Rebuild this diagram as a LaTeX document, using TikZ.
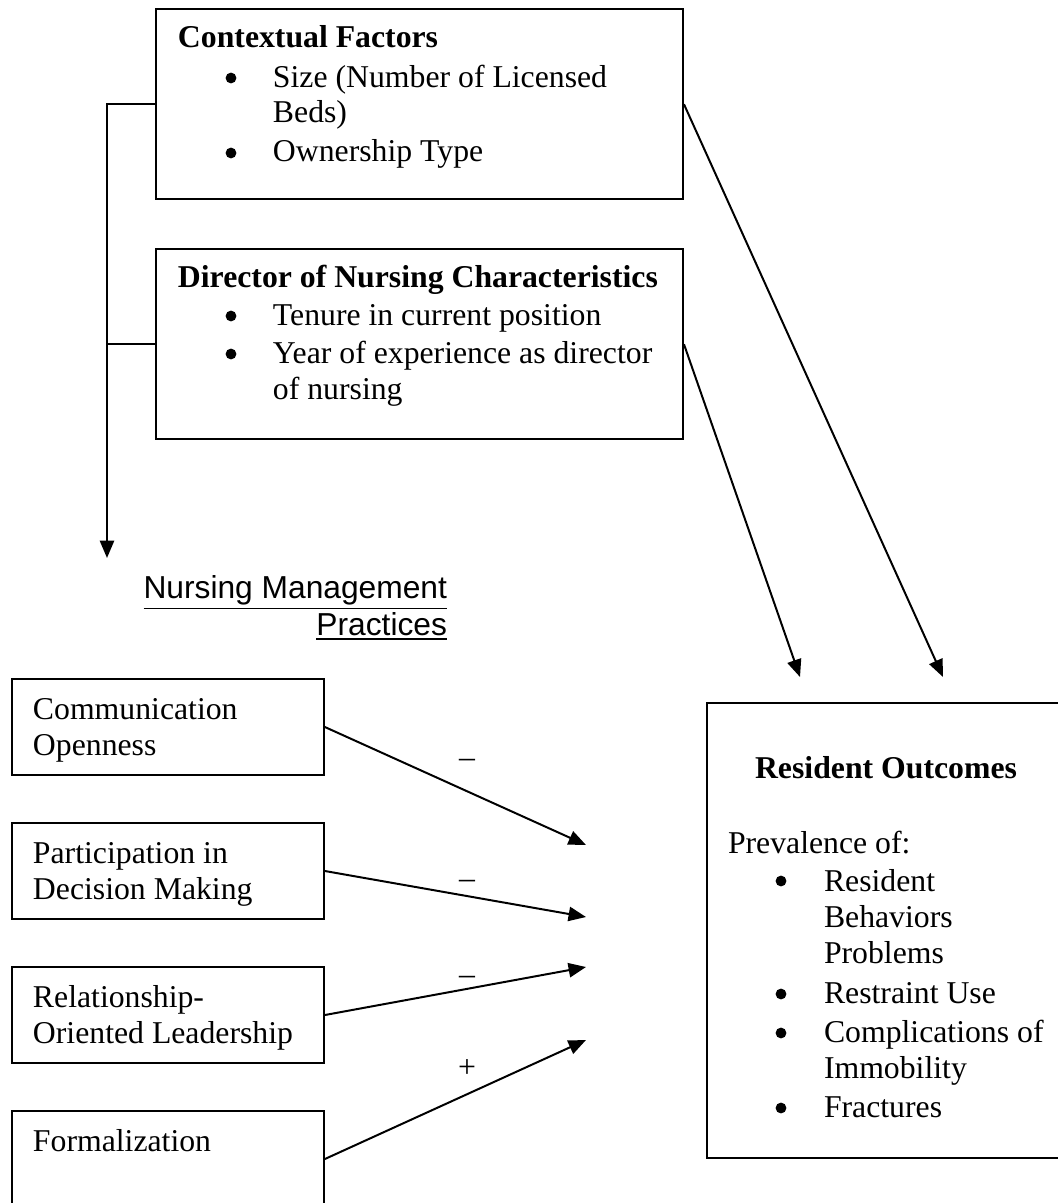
\documentclass[tikz,border=0pt]{standalone}
\usepackage{fontspec}
\setmainfont{Liberation Serif}
\setsansfont{Liberation Sans}
\usetikzlibrary{arrows.meta}

\begin{document}
\begin{tikzpicture}[x=0.378pt, y=-0.378pt, line width=0.75pt,
  font=\fontsize{12}{13.6}\selectfont,
  topbox/.style={draw, anchor=north west, inner sep=0, minimum width=199.2pt, minimum height=72pt},
  mgmtbox/.style={draw, anchor=north west, inner sep=0, minimum width=117.9pt, minimum height=36.3pt},
  txt/.style={anchor=base west, inner sep=0, align=left},
  dot/.style={circle, fill, inner sep=0, minimum size=4.1pt},
  sign/.style={anchor=base, inner sep=0},
  tip/.style={-{Triangle[length=6.6pt,width=5.4pt]}}]
\useasboundingbox (0,0) rectangle (1057,1203);
% top boxes (multi-line texts sit on their last line)
\node[topbox] (ctx) at (155,8){};
\node[txt] (ctxt) at (177,48){\textbf{Contextual Factors}};
\node[dot] (cb1) at (231,78){};
\node[txt] (ci1) at (272,123){Size (Number of Licensed\\Beds)};
\node[dot] (cb2) at (231,153){};
\node[txt] (ci2) at (272,162){Ownership Type};
\node[topbox] (dir) at (155,248){};
\node[txt] (dirt) at (177,287){\textbf{Director of Nursing Characteristics}};
\node[dot] (db1) at (231,316){};
\node[txt] (di1) at (272,325){Tenure in current position};
\node[dot] (db2) at (231,354){};
\node[txt] (di2) at (272,399){Year of experience as director\\of nursing};
\coordinate (nmp) at (107,558);
\draw[tip](ctx.west) -| (nmp);
\draw[](dir.west) -- (dir.west -| nmp);
% management practices
\node[anchor=base east, inner sep=0, align=right, font=\sffamily\fontsize{12}{13.8}\selectfont] (nmpt) at (448,635){\underline{Nursing Management}\\\underline{Practices}};
\node[mgmtbox] (comm) at (11,678){};
\node[txt] (commt) at (32,755){Communication\\Openness};
\node[mgmtbox] (part) at (11,822){};
\node[txt] (partt) at (32,899){Participation in\\Decision Making};
\node[mgmtbox] (rel) at (11,966){};
\node[txt] (relt) at (32,1043){Relationship-\\Oriented Leadership};
\node[mgmtbox] (form) at (11,1110){};
\node[txt] (formt) at (32,1151){Formalization};
% outcomes
\node[draw, anchor=north west, inner sep=0, minimum width=136pt, minimum height=172pt] (res) at (706,702){};
\node[anchor=base, inner sep=0] (rest) at (886,778){\textbf{Resident Outcomes}};
\node[txt] (prev) at (727,853){Prevalence of:};
\node[dot] (rb1) at (781,881){};
\node[txt] (ri1) at (823,963){Resident\\Behaviors\\Problems};
\node[dot] (rb2) at (781,994){};
\node[txt] (ri2) at (823,1003){Restraint Use};
\node[dot] (rb3) at (781,1033){};
\node[txt] (ri3) at (823,1078){Complications of\\Immobility};
\node[dot] (rb4) at (781,1108){};
\node[txt] (ri4) at (823,1117){Fractures};
% arrows
\coordinate (t1) at (586,845);
\coordinate (t2) at (586,917);
\coordinate (t3) at (586,967);
\coordinate (t4) at (586,1040);
\coordinate (t5) at (800,677);
\coordinate (t6) at (943,677);
\draw[tip](comm.east) -- (t1);
\draw[tip](part.east) -- (t2);
\draw[tip](rel.east) -- (t3);
\draw[tip](form.east) -- (t4);
\draw[tip](dir.east) -- (t5);
\draw[tip](ctx.east) -- (t6);
\node[sign] (s1) at (467,767){--};
\node[sign] (s2) at (467,888){--};
\node[sign] (s3) at (467,984){--};
\node[sign] (s4) at (467,1077){+};
\end{tikzpicture}
\end{document}
